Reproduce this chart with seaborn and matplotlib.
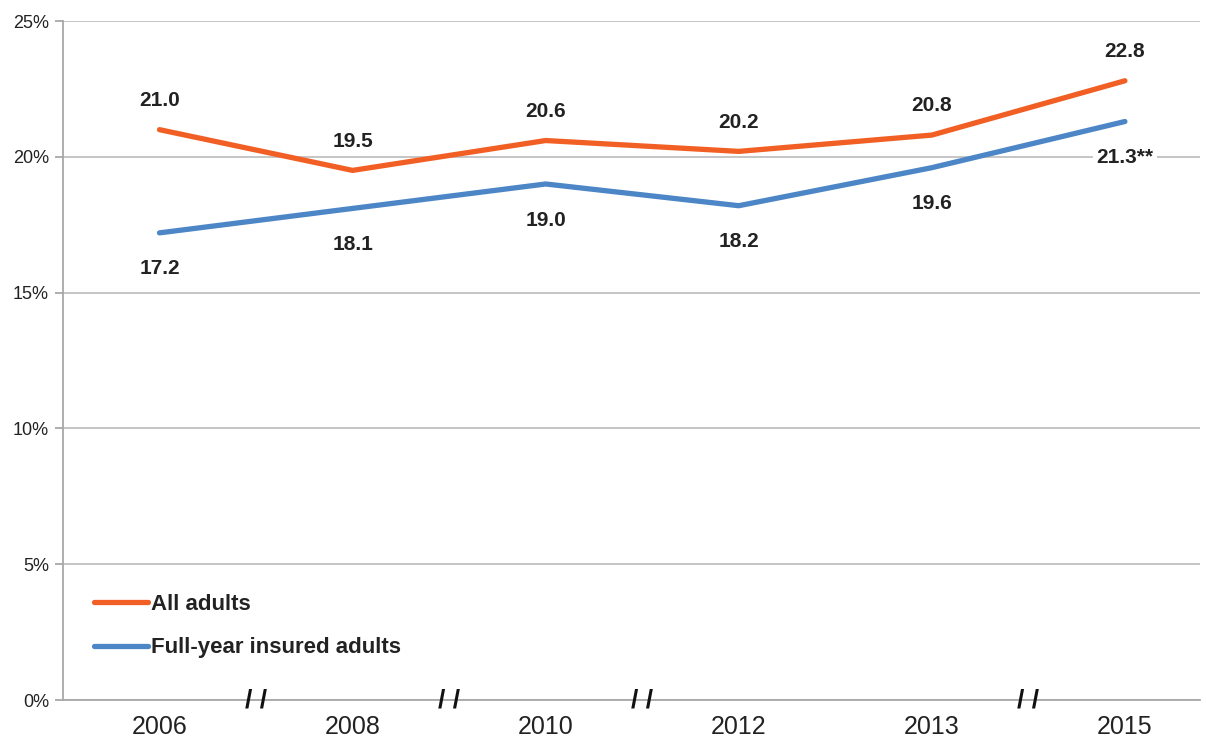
import matplotlib
matplotlib.use('Agg')
import matplotlib.pyplot as plt
import pandas as pd
import seaborn as sns

# Data
years = ['2006', '2008', '2010', '2012', '2013', '2015']
all_adults = [21.0, 19.5, 20.6, 20.2, 20.8, 22.8]
insured_adults = [17.2, 18.1, 19.0, 18.2, 19.6, 21.3]
insured_labels = ['17.2', '18.1', '19.0', '18.2', '19.6', '21.3**']
series_names = ['All adults', 'Full-year insured adults']
colors = ['#F15F24', '#4C86C6']
# axis breaks sit between these neighbouring years
breaks_after = ['2006', '2008', '2010', '2013']

sns.set_theme(style='white')
plt.rcParams['font.family'] = ['Liberation Sans Narrow', 'Liberation Sans', 'DejaVu Sans']

pos = list(range(len(years)))
df = pd.DataFrame({
    'pos': pos * 2,
    'value': all_adults + insured_adults,
    'series': [series_names[0]] * len(years) + [series_names[1]] * len(years),
})

fig = plt.figure(figsize=(12.06, 7.40), dpi=100)
ax = fig.add_axes([0.0522, 0.054, 0.943, 0.9176])

sns.lineplot(data=df, x='pos', y='value', hue='series', palette=colors,
             linewidth=3.8, ax=ax, solid_capstyle='round', zorder=3)

ax.set_xlim(-0.5, 5.39)
ax.set_ylim(0, 25)
ax.set_yticks([0, 5, 10, 15, 20, 25])
ax.set_yticklabels(['0%', '5%', '10%', '15%', '20%', '25%'], fontsize=13, color='#222222')
ax.set_xticks(pos)
ax.set_xticklabels(years, fontsize=18, color='#222222')
ax.set_xlabel('')
ax.set_ylabel('')
ax.yaxis.grid(True, color='#C0C0C0', linewidth=1.3)
ax.set_axisbelow(True)
for s in ['top', 'right']:
    ax.spines[s].set_visible(False)
for s in ['left', 'bottom']:
    ax.spines[s].set_color('#A8A8A8')
    ax.spines[s].set_linewidth(1.3)
ax.tick_params(axis='y', left=True, length=6, color='#A8A8A8', width=1.3, pad=4)
ax.tick_params(axis='x', bottom=False, pad=5)

# Data labels
for x, v in zip(pos, all_adults):
    ax.annotate(f'{v:.1f}', (x, v), xytext=(0, 21), textcoords='offset points',
                ha='center', va='center', fontsize=15, fontweight='bold', color='#222222')
for x, v, lab in zip(pos, insured_adults, insured_labels):
    ax.annotate(lab, (x, v), xytext=(0, -26), textcoords='offset points',
                ha='center', va='center', fontsize=15, fontweight='bold', color='#222222',
                bbox=dict(boxstyle='square,pad=0.15', fc='white', ec='none'))

# Axis break marks
for y in breaks_after:
    i = years.index(y)
    ax.text(i + 0.5, 0, '/ /', ha='center', va='center', fontsize=19,
            fontweight='bold', color='#111111', clip_on=False, zorder=5)

leg = ax.legend(loc='lower left', bbox_to_anchor=(0.01, 0.032), frameon=False,
                handlelength=2.4, handletextpad=0.15, labelspacing=1.0,
                prop={'size': 16, 'weight': 'bold'})
for t in leg.get_texts():
    t.set_color('#222222')

fig.savefig('out.png', dpi=100)
